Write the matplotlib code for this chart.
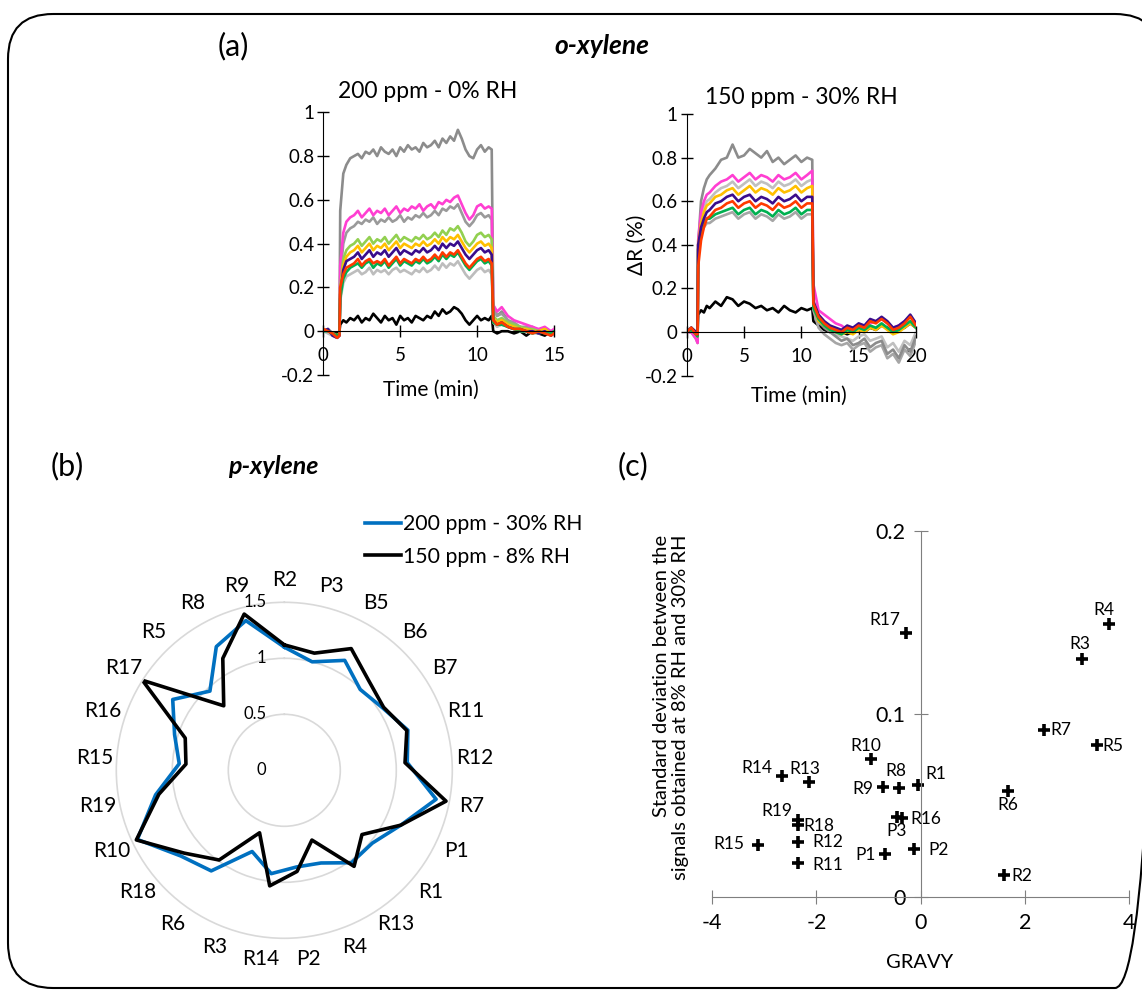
import numpy as np
import matplotlib
matplotlib.use('Agg')
import matplotlib.pyplot as plt
from matplotlib.patches import FancyBboxPatch
from matplotlib.ticker import FuncFormatter

plt.rcParams['font.family'] = ['Lato', 'DejaVu Sans']

W, H = 1142, 990

# ---------------- (a) o-xylene responses ----------------
# 200 ppm - 0% RH (time in min, dR in %)
t_left = [0, 0.3, 0.6, 0.9, 1.05,
          1.1, 1.3, 1.5, 1.75,
          2.0, 2.25, 2.5, 2.75, 3.0, 3.25, 3.5, 3.75, 4.0, 4.25, 4.5, 4.75, 5.0, 5.25, 5.5, 5.75,
          6.0, 6.25, 6.5, 6.75, 7.0, 7.25, 7.5, 7.75, 8.0, 8.25, 8.5, 8.75, 9.0, 9.25, 9.5, 9.75,
          10.0, 10.25, 10.5, 10.75, 10.95,
          11.05, 11.3, 11.6, 12.0, 12.4, 12.8, 13.2, 13.6, 14.0, 14.4, 14.8, 15.0]

gray_top_l = [0.0, 0.01, -0.01, -0.02, -0.01,
              0.55, 0.72, 0.76, 0.79,
              0.80, 0.81, 0.79, 0.82, 0.81, 0.83, 0.80, 0.84, 0.82, 0.81, 0.83, 0.80, 0.84, 0.82, 0.85, 0.83,
              0.84, 0.82, 0.86, 0.84, 0.85, 0.87, 0.84, 0.88, 0.86, 0.89, 0.87, 0.92, 0.88, 0.83, 0.80, 0.79,
              0.83, 0.85, 0.82, 0.84, 0.83,
              0.12, 0.07, 0.09, 0.05, 0.03, 0.02, 0.01, 0.02, 0.0, 0.01, -0.01, 0.0]
magenta_l = [0.01, 0.0, -0.02, -0.03, -0.02,
             0.30, 0.45, 0.50, 0.52,
             0.53, 0.55, 0.52, 0.54, 0.56, 0.53, 0.55, 0.54, 0.56, 0.53, 0.55, 0.57, 0.54, 0.56, 0.55, 0.57,
             0.56, 0.58, 0.55, 0.57, 0.58, 0.56, 0.59, 0.58, 0.60, 0.59, 0.61, 0.62, 0.58, 0.54, 0.51, 0.53,
             0.57, 0.58, 0.56, 0.57, 0.56,
             0.12, 0.09, 0.11, 0.07, 0.05, 0.04, 0.03, 0.02, 0.01, 0.02, 0.0, 0.01]
gray_mid_l = [0.0, 0.01, -0.01, -0.02, -0.01,
              0.25, 0.40, 0.45, 0.47,
              0.48, 0.50, 0.49, 0.51, 0.50, 0.52, 0.49, 0.51, 0.50, 0.52, 0.50, 0.51, 0.53, 0.50, 0.52, 0.51,
              0.53, 0.52, 0.54, 0.52, 0.53, 0.55, 0.53, 0.56, 0.55, 0.57, 0.56, 0.58, 0.54, 0.50, 0.48, 0.50,
              0.53, 0.54, 0.52, 0.53, 0.51,
              0.10, 0.07, 0.08, 0.05, 0.04, 0.02, 0.02, 0.01, 0.0, 0.01, -0.01, 0.0]
lgreen_l = [0.0, 0.0, -0.01, -0.02, -0.02,
            0.20, 0.33, 0.37, 0.39,
            0.40, 0.42, 0.39, 0.41, 0.43, 0.40, 0.42, 0.41, 0.43, 0.40, 0.42, 0.44, 0.41, 0.43, 0.42, 0.41,
            0.43, 0.42, 0.44, 0.42, 0.43, 0.45, 0.43, 0.46, 0.44, 0.47, 0.46, 0.48, 0.45, 0.41, 0.39, 0.41,
            0.44, 0.45, 0.43, 0.44, 0.42,
            0.07, 0.05, 0.06, 0.04, 0.03, 0.02, 0.01, 0.01, 0.0, 0.01, -0.01, 0.0]
gold_l = [0.01, 0.0, -0.01, -0.02, -0.01,
          0.18, 0.30, 0.34, 0.36,
          0.37, 0.39, 0.36, 0.38, 0.40, 0.37, 0.39, 0.38, 0.40, 0.37, 0.39, 0.41, 0.38, 0.40, 0.39, 0.38,
          0.40, 0.39, 0.41, 0.39, 0.40, 0.42, 0.40, 0.43, 0.41, 0.43, 0.42, 0.44, 0.41, 0.38, 0.36, 0.38,
          0.40, 0.41, 0.39, 0.40, 0.38,
          0.06, 0.04, 0.05, 0.03, 0.02, 0.01, 0.01, 0.0, 0.0, 0.01, -0.01, -0.01]
purple_l = [0.0, 0.01, -0.02, -0.03, -0.02,
            0.17, 0.28, 0.32, 0.33,
            0.34, 0.36, 0.33, 0.35, 0.37, 0.34, 0.36, 0.35, 0.37, 0.34, 0.36, 0.38, 0.35, 0.37, 0.36, 0.35,
            0.37, 0.36, 0.38, 0.36, 0.37, 0.39, 0.37, 0.40, 0.38, 0.40, 0.39, 0.41, 0.38, 0.35, 0.33, 0.35,
            0.37, 0.38, 0.36, 0.37, 0.35,
            0.05, 0.03, 0.04, 0.02, 0.01, 0.01, 0.0, 0.0, -0.01, 0.0, -0.02, -0.01]
green_l = [0.0, 0.0, -0.01, -0.02, -0.01,
           0.15, 0.24, 0.27, 0.29,
           0.30, 0.31, 0.29, 0.31, 0.32, 0.29, 0.31, 0.30, 0.32, 0.29, 0.31, 0.33, 0.30, 0.32, 0.31, 0.30,
           0.32, 0.31, 0.33, 0.31, 0.32, 0.34, 0.32, 0.35, 0.33, 0.35, 0.34, 0.36, 0.33, 0.30, 0.28, 0.30,
           0.32, 0.33, 0.31, 0.32, 0.30,
           0.04, 0.03, 0.03, 0.02, 0.01, 0.0, 0.0, -0.01, 0.0, -0.01, -0.01, 0.0]
red_l = [0.01, 0.0, -0.01, -0.03, -0.02,
         0.20, 0.26, 0.29, 0.30,
         0.31, 0.33, 0.30, 0.32, 0.33, 0.31, 0.32, 0.31, 0.33, 0.30, 0.32, 0.34, 0.31, 0.33, 0.32, 0.31,
         0.33, 0.32, 0.34, 0.32, 0.33, 0.35, 0.33, 0.36, 0.34, 0.36, 0.35, 0.37, 0.34, 0.31, 0.29, 0.31,
         0.33, 0.34, 0.32, 0.33, 0.31,
         0.05, 0.03, 0.04, 0.02, 0.01, 0.01, 0.0, -0.01, 0.0, -0.01, -0.02, -0.01]
lgray_l = [0.0, -0.01, -0.02, -0.03, -0.02,
           0.14, 0.22, 0.25, 0.26,
           0.27, 0.28, 0.26, 0.27, 0.29, 0.26, 0.28, 0.27, 0.28, 0.26, 0.28, 0.29, 0.27, 0.28, 0.27, 0.26,
           0.28, 0.27, 0.29, 0.27, 0.28, 0.30, 0.28, 0.31, 0.29, 0.31, 0.30, 0.32, 0.29, 0.26, 0.24, 0.26,
           0.28, 0.29, 0.27, 0.28, 0.26,
           0.04, 0.02, 0.03, 0.02, 0.01, 0.0, 0.0, -0.01, -0.01, 0.0, -0.02, -0.01]
black_l = [0.0, 0.005, -0.01, -0.01, 0.0,
           0.03, 0.05, 0.04, 0.06,
           0.05, 0.07, 0.04, 0.06, 0.05, 0.08, 0.06, 0.04, 0.07, 0.05, 0.06, 0.03, 0.07, 0.05, 0.06, 0.04,
           0.07, 0.06, 0.05, 0.07, 0.06, 0.09, 0.07, 0.10, 0.08, 0.09, 0.11, 0.10, 0.08, 0.05, 0.03, 0.05,
           0.07, 0.05, 0.06, 0.05, 0.07,
           0.0, -0.01, 0.0, 0.0, -0.01, 0.0, -0.02, 0.0, -0.01, -0.02, 0.0, -0.01]

# 150 ppm - 30% RH
t_right = [0, 0.4, 0.8, 0.95,
           1.0, 1.25, 1.5, 1.75,
           2.0, 2.5, 3.0, 3.5, 4.0, 4.5, 5.0, 5.5, 6.0, 6.5, 7.0, 7.5, 8.0, 8.5, 9.0, 9.5, 10.0, 10.5, 10.95,
           11.05, 11.5, 12.0, 12.5, 13.0, 13.5, 14.0, 14.5, 15.0, 15.5, 16.0, 16.5, 17.0, 17.5, 18.0, 18.5,
           19.0, 19.5, 20.0]

gray_top_r = [0.0, 0.01, -0.02, -0.04,
              0.40, 0.60, 0.66, 0.70,
              0.72, 0.75, 0.79, 0.80, 0.86, 0.80, 0.81, 0.84, 0.82, 0.80, 0.83, 0.78, 0.80, 0.77, 0.79, 0.81,
              0.78, 0.80, 0.79,
              0.12, 0.05, 0.02, 0.0, -0.02, -0.04, -0.03, -0.06, -0.05, -0.03, -0.07, -0.05, -0.04, -0.10,
              -0.08, -0.12, -0.06, -0.09, -0.02]
magenta_r = [0.0, 0.0, -0.03, -0.05,
             0.42, 0.55, 0.60, 0.63,
             0.64, 0.67, 0.69, 0.70, 0.72, 0.69, 0.71, 0.73, 0.70, 0.72, 0.71, 0.69, 0.72, 0.70, 0.71, 0.73,
             0.70, 0.72, 0.74,
             0.22, 0.10, 0.08, 0.06, 0.04, 0.03, 0.01, 0.02, 0.03, 0.02, 0.04, 0.05, 0.06, 0.04, 0.02, 0.03,
             0.05, 0.07, 0.04]
lgray_r = [0.0, 0.0, -0.02, -0.03,
           0.40, 0.52, 0.57, 0.60,
           0.61, 0.64, 0.66, 0.67, 0.69, 0.66, 0.68, 0.70, 0.67, 0.69, 0.68, 0.66, 0.69, 0.67, 0.68, 0.70,
           0.67, 0.69, 0.70,
           0.15, 0.06, 0.03, 0.01, -0.01, -0.02, -0.03, -0.04, -0.02, -0.01, -0.04, -0.03, -0.02, -0.07,
           -0.05, -0.09, -0.04, -0.06, 0.0]
gold_r = [0.0, 0.01, -0.01, -0.02,
          0.40, 0.50, 0.55, 0.58,
          0.59, 0.62, 0.63, 0.65, 0.66, 0.63, 0.65, 0.67, 0.64, 0.66, 0.65, 0.63, 0.66, 0.64, 0.65, 0.67,
          0.64, 0.66, 0.67,
          0.12, 0.05, 0.03, 0.01, 0.0, -0.01, 0.0, -0.01, 0.01, 0.0, 0.02, 0.01, 0.03, 0.01, -0.01, 0.0,
          0.02, 0.04, 0.02]
purple_r = [0.0, 0.02, 0.0, -0.01,
            0.40, 0.48, 0.52, 0.55,
            0.56, 0.59, 0.60, 0.62, 0.63, 0.60, 0.62, 0.63, 0.60, 0.62, 0.61, 0.59, 0.62, 0.60, 0.61, 0.63,
            0.60, 0.62, 0.62,
            0.14, 0.08, 0.05, 0.03, 0.02, 0.01, 0.03, 0.02, 0.04, 0.03, 0.06, 0.05, 0.07, 0.05, 0.02, 0.03,
            0.05, 0.08, 0.04]
red_r = [0.0, 0.02, -0.01, -0.01,
         0.30, 0.42, 0.48, 0.52,
         0.53, 0.56, 0.57, 0.59, 0.60, 0.57, 0.59, 0.60, 0.57, 0.59, 0.58, 0.56, 0.59, 0.57, 0.58, 0.60,
         0.57, 0.59, 0.59,
         0.13, 0.07, 0.04, 0.02, 0.01, 0.0, 0.02, 0.01, 0.03, 0.02, 0.05, 0.04, 0.06, 0.04, 0.01, 0.02,
         0.04, 0.07, 0.03]
green_r = [0.0, 0.01, -0.01, -0.02,
           0.38, 0.46, 0.50, 0.52,
           0.52, 0.54, 0.55, 0.56, 0.57, 0.54, 0.56, 0.57, 0.54, 0.56, 0.55, 0.53, 0.56, 0.54, 0.55, 0.57,
           0.54, 0.56, 0.56,
           0.11, 0.06, 0.03, 0.01, 0.0, -0.01, 0.01, 0.0, 0.02, 0.01, 0.03, 0.02, 0.04, 0.02, 0.0, 0.01,
           0.03, 0.05, 0.02]
gray_low_r = [0.0, 0.0, -0.03, -0.05,
              0.38, 0.45, 0.48, 0.50,
              0.50, 0.52, 0.53, 0.54, 0.55, 0.52, 0.54, 0.55, 0.52, 0.54, 0.53, 0.51, 0.54, 0.52, 0.53, 0.55,
              0.52, 0.54, 0.54,
              0.10, 0.02, -0.01, -0.03, -0.05, -0.06, -0.05, -0.08, -0.06, -0.05, -0.09, -0.07, -0.06, -0.12,
              -0.10, -0.14, -0.08, -0.11, -0.04]
black_r = [0.0, 0.02, 0.0, -0.01,
           0.08, 0.10, 0.09, 0.12,
           0.11, 0.14, 0.12, 0.16, 0.15, 0.12, 0.14, 0.13, 0.11, 0.12, 0.10, 0.11, 0.09, 0.12, 0.10, 0.09,
           0.11, 0.10, 0.11,
           0.05, 0.03, 0.01, 0.0, 0.01, 0.0, -0.01, 0.0, 0.01, 0.0, 0.02, 0.01, 0.03, 0.02, 0.0, 0.01,
           0.02, 0.04, 0.02]

# ---------------- (b) p-xylene radar ----------------
sensors = ['R2', 'P3', 'B5', 'B6', 'B7', 'R11', 'R12', 'R7', 'P1', 'R1', 'R13', 'R4', 'P2',
           'R14', 'R3', 'R6', 'R18', 'R10', 'R19', 'R15', 'R16', 'R17', 'R5', 'R8', 'R9']
radar_200_30 = [1.10, 1.00, 1.12, 0.99, 1.04, 1.16, 1.10, 1.38, 1.15, 1.02, 1.02, 0.89, 0.87,
                0.93, 0.78, 1.11, 1.20, 1.45, 1.17, 0.94, 1.03, 1.18, 0.97, 1.26, 1.38]
radar_150_8 = [1.12, 1.08, 1.24, 1.10, 1.05, 1.15, 1.08, 1.47, 1.15, 0.90, 1.06, 0.67, 0.91,
               1.04, 0.60, 0.99, 1.16, 1.46, 1.14, 0.88, 0.93, 1.50, 0.79, 1.14, 1.44]
radar_ticks = [0, 0.5, 1, 1.5]

# ---------------- (c) std dev vs GRAVY ----------------
peptides = ['R17', 'R4', 'R3', 'R7', 'R5', 'R6', 'R2', 'R10', 'R14', 'R13', 'R8', 'R9', 'R1',
            'R16', 'P3', 'R19', 'R18', 'R12', 'R11', 'R15', 'P1', 'P2']
gravy = [-0.28, 3.62, 3.09, 2.36, 3.39, 1.67, 1.60, -0.96, -2.66, -2.14, -0.42, -0.72, -0.05,
         -0.35, -0.45, -2.36, -2.36, -2.36, -2.36, -3.12, -0.69, -0.13]
std_dev = [0.144, 0.149, 0.130, 0.091, 0.083, 0.058, 0.012, 0.075, 0.066, 0.0625, 0.0596, 0.0601,
           0.0611, 0.0428, 0.0437, 0.0419, 0.0392, 0.0301, 0.0182, 0.0282, 0.0231, 0.0259]

# label offsets in pixels (dx right, dy up)
label_offset = {'R17': (-21, 13), 'R4': (-5, 14), 'R3': (-2, 15), 'R7': (17, 0), 'R5': (16, -1),
                'R6': (0, -14), 'R2': (18, -1), 'R10': (-5, 13), 'R14': (-25, 8), 'R13': (-4, 13),
                'R8': (-3, 17), 'R9': (-20, -2), 'R1': (18, 11), 'R16': (23, -1), 'P3': (-1, -14),
                'R19': (-21, 9), 'R18': (21, -1), 'R12': (30, 0), 'R11': (30, -2), 'R15': (-29, 1),
                'P1': (-19, -1), 'P2': (25, -1)}


def rect(left, top, right, bottom):
    # pixel box -> figure fraction
    return [left / W, 1 - bottom / H, (right - left) / W, (bottom - top) / H]


def fmt(v, pos):
    return '%g' % round(v, 2)


def draw_response(ax, t, curves, xmax, xticks):
    for y, c in curves:
        ax.plot(t, y, color=c, lw=1.9)
    ax.set_xlim(0, xmax)
    ax.set_ylim(-0.2, 1)
    ax.spines['left'].set_position(('data', 0))
    ax.spines['bottom'].set_position(('data', 0))
    ax.spines['top'].set_visible(False)
    ax.spines['right'].set_visible(False)
    ax.set_xticks(xticks)
    ax.set_yticks([-0.2, 0, 0.2, 0.4, 0.6, 0.8, 1])
    ax.yaxis.set_major_formatter(FuncFormatter(fmt))
    ax.tick_params(direction='inout', length=9, width=1, labelsize=13.5)
    ax.tick_params(axis='y', pad=2)
    ax.tick_params(axis='x', pad=7)
    ax.patch.set_alpha(0)


fig = plt.figure(figsize=(W / 100, H / 100), dpi=100)

# background axes in pixel units: frame and free texts
bg = fig.add_axes([0, 0, 1, 1])
bg.set_xlim(0, W)
bg.set_ylim(H, 0)
bg.axis('off')
bg.add_patch(FancyBboxPatch((8, 14), 1160 - 8, 988 - 14, boxstyle='round,pad=0,rounding_size=45',
                            fc='none', ec='black', lw=1.5))

bg.text(233, 46, '(a)', fontsize=22, ha='center', va='center')
bg.text(602, 46, 'o-xylene', fontsize=19, fontweight='bold', fontstyle='italic', ha='center', va='center')
bg.text(428, 92, '200 ppm - 0% RH', fontsize=16.5, ha='center', va='center')
bg.text(801, 97, '150 ppm - 30% RH', fontsize=16.5, ha='center', va='center')
bg.text(637, 245, 'ΔR (%)', fontsize=15, rotation=90, ha='center', va='center')
bg.text(431, 390, 'Time (min)', fontsize=15, ha='center', va='center')
bg.text(799, 396, 'Time (min)', fontsize=15, ha='center', va='center')
bg.text(67, 466, '(b)', fontsize=22, ha='center', va='center')
bg.text(273, 466, 'p-xylene', fontsize=18, fontweight='bold', fontstyle='italic', ha='center', va='center')
bg.text(633, 466, '(c)', fontsize=22, ha='center', va='center')
bg.text(671, 535, 'Standard deviation between the\nsignals obtained at 8% RH and 30% RH', fontsize=14.5,
        rotation=90, ha='center', va='top', multialignment='right', linespacing=1.15)
bg.text(920, 963, 'GRAVY', fontsize=14.5, ha='center', va='center')

# (a) left: 200 ppm - 0% RH
ax1 = fig.add_axes(rect(323.3, 112.3, 554, 375))
draw_response(ax1, t_left, [(black_l, 'black'), (gray_top_l, '#8c8c8c'), (gray_mid_l, '#9a9a9a'),
                            (magenta_l, '#ff3fd2'), (lgreen_l, '#92d050'), (gold_l, '#ffc000'),
                            (lgray_l, '#bdbdbd'), (purple_l, '#3a0d8c'), (green_l, '#00b050'),
                            (red_l, '#ff3a00')], 15, [0, 5, 10, 15])

# (a) right: 150 ppm - 30% RH
ax2 = fig.add_axes(rect(686.7, 114, 916, 375.7))
draw_response(ax2, t_right, [(black_r, 'black'), (gray_low_r, '#a6a6a6'), (lgray_r, '#c0c0c0'),
                             (gray_top_r, '#8c8c8c'), (magenta_r, '#ff3fd2'), (gold_r, '#ffc000'),
                             (green_r, '#00b050'), (purple_r, '#3a0d8c'), (red_r, '#ff3a00')],
              20, [0, 5, 10, 15, 20])

# (b) radar
cx, cy, R = 284.3, 770.3, 168
rad = fig.add_axes(rect(cx - R, cy - R, cx + R, cy + R), projection='polar')
rad.set_theta_zero_location('N')
rad.set_theta_direction(-1)
theta = np.linspace(0, 2 * np.pi, len(sensors), endpoint=False)
th = list(theta) + [theta[0]]
rad.plot(th, radar_200_30 + radar_200_30[:1], color='#0070c0', lw=2.6, label='200 ppm - 30% RH')
rad.plot(th, radar_150_8 + radar_150_8[:1], color='black', lw=2.6, label='150 ppm - 8% RH')
rad.set_ylim(0, 1.5)
rad.set_xticks([])
rad.set_yticks([0.5, 1.0])
rad.set_yticklabels([])
rad.yaxis.grid(True, color='#d9d9d9', lw=1.2)
rad.spines['polar'].set_color('#d9d9d9')
rad.spines['polar'].set_linewidth(1.2)
for a, name in zip(theta, sensors):
    rad.text(a, 1.70, name, fontsize=15, ha='center', va='center')
for v in radar_ticks:
    rad.annotate('%g' % v, xy=(0, v), xytext=(-13, 0), textcoords='offset points',
                 ha='right', va='center', fontsize=12)
rad.legend(loc='upper left', bbox_to_anchor=(365 / W, 1 - 514 / H), bbox_transform=fig.transFigure,
           frameon=False, fontsize=15.3, handlelength=1.7, handletextpad=0.1, borderpad=0,
           borderaxespad=0, labelspacing=0.6)

# (c) std dev vs GRAVY
sc = fig.add_axes(rect(712.3, 530.7, 1129, 896.7))
sc.plot(gravy, std_dev, ls='none', marker='+', ms=8, mew=2.6, color='black')
sc.set_xlim(-4, 4)
sc.set_ylim(0, 0.2)
sc.spines['left'].set_position(('data', 0))
sc.spines['bottom'].set_position(('data', 0))
sc.spines['top'].set_visible(False)
sc.spines['right'].set_visible(False)
for s in ['left', 'bottom']:
    sc.spines[s].set_color('#7f7f7f')
sc.set_xticks([-4, -2, 0, 2, 4])
sc.set_yticks([0, 0.1, 0.2])
sc.xaxis.set_major_formatter(FuncFormatter(fmt))
sc.yaxis.set_major_formatter(FuncFormatter(fmt))
sc.tick_params(direction='inout', length=10, color='#7f7f7f', labelsize=15.5)
sc.tick_params(axis='x', pad=7)
sc.tick_params(axis='y', pad=6)
sc.patch.set_alpha(0)
for name, x, y in zip(peptides, gravy, std_dev):
    dx, dy = label_offset[name]
    sc.annotate(name, (x, y), xytext=(dx * 0.72, dy * 0.72), textcoords='offset points',
                ha='center', va='center', fontsize=12.5)

fig.savefig('out.png', dpi=100)
